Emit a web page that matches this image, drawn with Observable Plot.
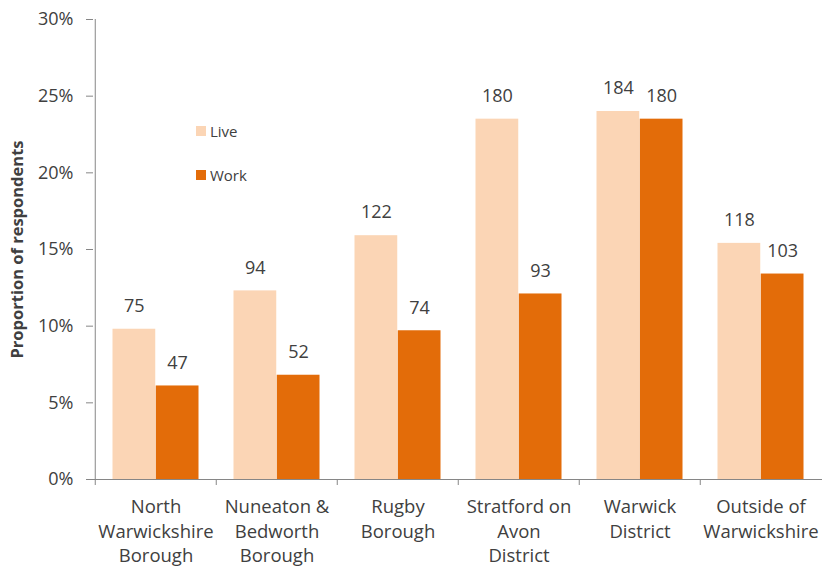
<!DOCTYPE html>
<html>
<head>
<meta charset="utf-8">
<script src="https://cdn.jsdelivr.net/npm/d3@7"></script>
<script src="https://cdn.jsdelivr.net/npm/@observablehq/plot@0.6"></script>
<style>
  html, body { margin: 0; padding: 0; background: #fff; }
  #wrap { position: relative; width: 822px; height: 566px; font-family: "Open Sans", sans-serif; }
  .legend { position: absolute; left: 196px; font-size: 15px; color: #404040; display: flex; align-items: center; }
  .legend span.sw { display: inline-block; width: 10px; height: 10px; margin-right: 4px; }
</style>
</head>
<body>
<div id="wrap"></div>
<script>
const categories = ["North\nWarwickshire\nBorough", "Nuneaton &\nBedworth\nBorough", "Rugby\nBorough", "Stratford on\nAvon\nDistrict", "Warwick\nDistrict", "Outside of\nWarwickshire"];
const series = ["Live", "Work"];
const liveCount = [75, 94, 122, 180, 184, 118];
const workCount = [47, 52, 74, 93, 180, 103];
const livePct = [9.8, 12.3, 15.9, 23.5, 24.0, 15.4];
const workPct = [6.1, 6.8, 9.7, 12.1, 23.5, 13.4];
const yTicks = [0, 5, 10, 15, 20, 25, 30];
const colors = {Live: "#FBD5B5", Work: "#E36C09"};

const live = categories.map((c, i) => ({category: c, value: livePct[i], count: liveCount[i]}));
const work = categories.map((c, i) => ({category: c, value: workPct[i], count: workCount[i]}));

const W = 822, H = 566, mL = 93, mR = 0, mT = 19, mB = 87;
const step = (W - mL - mR) / categories.length;
const outer = step * 0.144, barW = step * 0.356;
const txt = "#404040";

const chart = Plot.plot({
  width: W, height: H,
  marginLeft: mL, marginRight: mR, marginTop: mT, marginBottom: mB,
  style: {fontFamily: "Open Sans, sans-serif", fontSize: "18px", color: txt, background: "#fff"},
  x: {domain: categories, padding: 0},
  y: {domain: [0, 30]},
  marks: [
    Plot.barY(live, {x: "category", y: "value", fill: colors.Live, insetLeft: outer, insetRight: outer + barW}),
    Plot.barY(work, {x: "category", y: "value", fill: colors.Work, insetLeft: outer + barW, insetRight: outer}),
    Plot.text(live, {x: "category", y: "value", text: d => String(d.count), dx: -(barW / 2), dy: -23, fill: txt, fontSize: 18}),
    Plot.text(work, {x: "category", y: "value", text: d => String(d.count), dx: barW / 2, dy: -23, fill: txt, fontSize: 18}),
    Plot.ruleY([0], {stroke: "#868686"}),
    Plot.axisY({ticks: yTicks, tickFormat: d => d + "%", tickSize: 7, tickPadding: 13, stroke: "#868686", fill: txt, label: null, fontSize: 18}),
    Plot.ruleX([0], {x: () => categories[0], dx: -step / 2, y1: 0, y2: 30, stroke: "#868686"}),
    Plot.axisX({tickSize: 6, stroke: "#868686", text: null, dx: -step / 2, label: null}),
    Plot.axisX({tickSize: 0, tickPadding: 16, tickFormat: d => d, lineHeight: 1.33, fill: txt, label: null, fontSize: 18.5}),
    Plot.text(["Proportion of respondents"], {frameAnchor: "left", textAnchor: "middle", rotate: -90, dx: -76, fontWeight: "bold", fontSize: 16.5, fill: txt})
  ]
});

const wrap = document.getElementById("wrap");
wrap.appendChild(chart);
[["Live", 132], ["Work", 176]].forEach(([s, y]) => {
  const d = document.createElement("div");
  d.className = "legend";
  d.style.top = (y - 11) + "px";
  d.innerHTML = `<span class="sw" style="background:${colors[s]}"></span>${s}`;
  wrap.appendChild(d);
});
</script>
</body>
</html>
